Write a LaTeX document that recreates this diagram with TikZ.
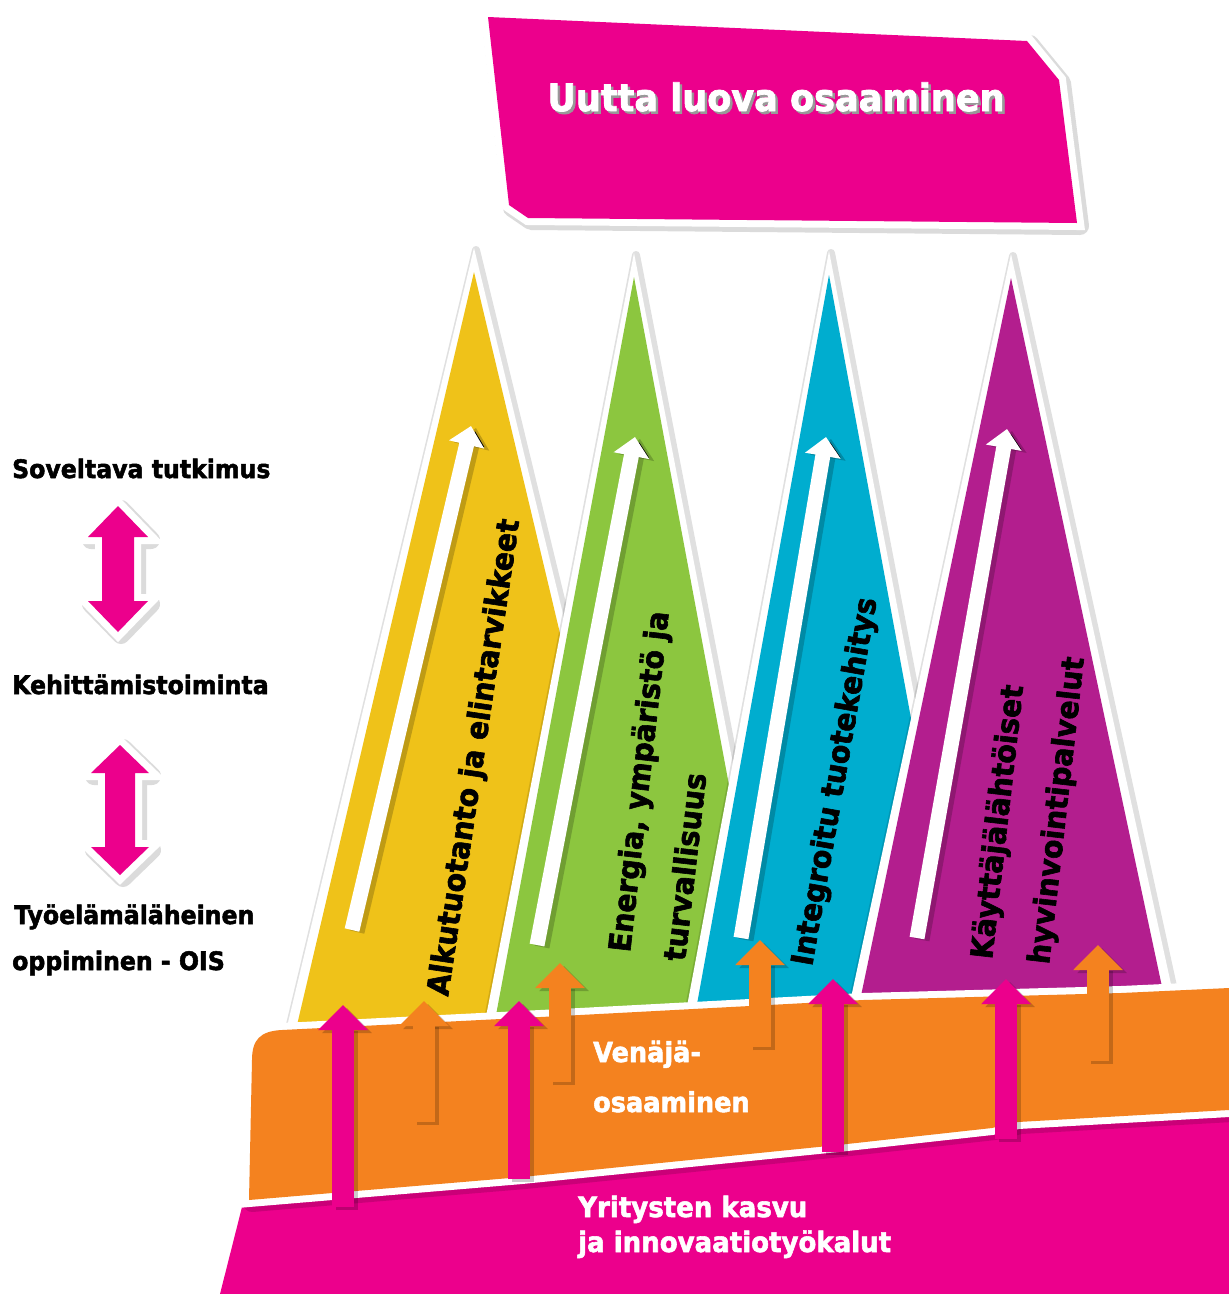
\documentclass[tikz,border=0pt]{standalone}
\usepackage{fontspec}
\setmainfont{DejaVu Sans}[FakeStretch=0.93, BoldFeatures={FakeBold=2}]
\usetikzlibrary{arrows.meta}
\definecolor{mag}{HTML}{EC008C}
\definecolor{ora}{HTML}{F4821F}
\definecolor{yel}{HTML}{EFC219}
\definecolor{grn}{HTML}{8CC63F}
\definecolor{blu}{HTML}{00ADCF}
\definecolor{pur}{HTML}{B31E8E}
\tikzset{
  shapeshadow/.style={preaction={draw=black, draw opacity=0.14, line width=18pt, line join=round, transform canvas={shift={(3pt,-3pt)}}}},
  trishadow/.style={preaction={draw=black, draw opacity=0.12, line width=8pt, line join=round, transform canvas={shift={(2pt,-2pt)}}}},
  whiteborder/.style={preaction={draw=white, line width=14pt}},
  varr/.style={line width=22pt, -{Triangle[width=48pt,length=25pt]}},
  varrsh/.style={varr, draw=black, draw opacity=0.2},
  warr/.style={draw=white, line width=15pt, -{Triangle[width=35pt,length=19pt]}},
  warrsh/.style={warr, draw=black, draw opacity=0.2},
  lbl/.style={font=\bfseries\fontsize{25.4}{30}\selectfont, anchor=base west, inner sep=0pt, text=black},
  rottxt/.style={font=\bfseries\fontsize{30.5}{36}\selectfont, anchor=base west, inner sep=0pt, text=black, rotate=#1},
  bandtxt/.style={font=\bfseries\fontsize{27.5}{32}\selectfont, anchor=base west, inner sep=0pt, text=white},
  titletxt/.style={font=\bfseries\fontsize{37.7}{44}\selectfont, anchor=base, inner sep=0pt, text=#1},
}
\newcommand\VArrow[5]{% name, colour, x, ybottom, ytop
  \coordinate (#1-b) at (#3,#4);
  \coordinate (#1-t) at (#3,#5);
  \draw[varrsh] ([shift={(4,3)}]#1-b) -- ([shift={(4,3)}]#1-t);
  \draw[varr, draw=#2] (#1-b) -- (#1-t);
}
\newcommand\WArrow[5]{% name, xb, yb, xt, yt
  \coordinate (#1-b) at (#2,#3);
  \coordinate (#1-t) at (#4,#5);
  \draw[warrsh] ([shift={(5,2)}]#1-b) -- ([shift={(5,2)}]#1-t);
  \draw[warr] (#1-b) -- (#1-t);
}
\begin{document}
\begin{tikzpicture}[x=1pt,y=-1pt]
\useasboundingbox (0,0) rectangle (1229,1294);

% ---------- top box ----------
\path[fill=mag, shapeshadow, whiteborder]
  (488,17) -- (1027,41) -- (1059,80) -- (1077,223) -- (528,218) -- (509,205) -- cycle;
\node[titletxt=black!40] (titleS) at (778.5,113.5) {Uutta luova osaaminen};
\node[titletxt=white] (title) at (776,111) {Uutta luova osaaminen};

% ---------- triangles ----------
\fill[white, trishadow] (474,248) -- (671.5,1060) -- (279,1060) -- cycle;
\fill[yel] (474,272) -- (661.5,1060) -- (288.8,1060) -- cycle;

\fill[white, trishadow] (634,253) -- (790.4,1060) -- (477.6,1060) -- cycle;
\fill[grn] (634,277) -- (780.4,1060) -- (487.6,1060) -- cycle;

\fill[white, trishadow] (829,251) -- (984.2,1060) -- (676.9,1060) -- cycle;
\fill[blu] (829,275) -- (974.2,1060) -- (686.9,1060) -- cycle;

\fill[white, trishadow] (1011,254) -- (1187.6,1060) -- (837.6,1060) -- cycle;
\fill[pur] (1011,278) -- (1177.6,1060) -- (847.6,1060) -- cycle;

% white arrows in the triangles
\WArrow{wy}{352}{930}{471}{426}
\WArrow{wg}{537}{945}{635}{437}
\WArrow{wb}{741}{938}{826}{437}
\WArrow{wp}{917}{938}{1007}{429}

% rotated texts
\node[rottxt=81.5] (tyel) at (448,997) {Alkutuotanto ja elintarvikkeet};
\node[rottxt=83.5] (tgrn1) at (630,953) {Energia, ympäristö ja};
\node[rottxt=83.5] (tgrn2) at (685,962) {turvallisuus};
\node[rottxt=80] (tblu) at (812,967) {Integroitu tuotekehitys};
\node[rottxt=83.5] (tpur1) at (992,960) {Käyttäjälähtöiset};
\node[rottxt=83.5] (tpur2) at (1049,965) {hyvinvointipalvelut};

% ---------- bottom bands ----------
\fill[mag] (242,1207) -- (522,1183) -- (838,1151) -- (992,1134) -- (1018,1128)
  -- (1229,1116) -- (1229,1294) -- (220,1294) -- cycle;
\path[fill=ora, shapeshadow, whiteborder]
  (249,1200) -- (252,1060) .. controls (252,1040) and (260,1031) .. (282,1030)
  -- (580,1015) -- (863,1000) -- (1121,993) -- (1229,988) -- (1229,1110)
  -- (1018,1122) -- (992,1128) -- (838,1145) -- (522,1177) -- cycle;

\node[bandtxt] (ven1) at (593,1062) {Venäjä-};
\node[bandtxt] (ven2) at (593,1112) {osaaminen};
\node[bandtxt, font=\bfseries\fontsize{28}{32}\selectfont] (yri1) at (578,1217) {Yritysten kasvu};
\node[bandtxt, font=\bfseries\fontsize{28}{32}\selectfont] (yri2) at (578,1252) {ja innovaatiotyökalut};

% ---------- vertical arrows ----------
\VArrow{pa1}{mag}{343}{1207}{1005}
\VArrow{pa2}{mag}{519}{1179}{1001}
\VArrow{pa3}{mag}{833}{1152}{979}
\VArrow{pa4}{mag}{1006}{1139}{979}
\VArrow{oa1}{ora}{424}{1122}{1001}
\VArrow{oa2}{ora}{560}{1082}{963}
\VArrow{oa3}{ora}{760}{1047}{940}
\VArrow{oa4}{ora}{1098}{1061}{945}

% ---------- left column ----------
\node[lbl] (l1) at (12,478) {Soveltava tutkimus};
\node[lbl] (l2) at (12,694) {Kehittämistoiminta};
\node[lbl] (l3) at (14,924) {Työelämäläheinen};
\node[lbl] (l4) at (12,970) {oppiminen - OIS};

\path[fill=mag, shapeshadow, whiteborder]
  (118,506) -- (148,537) -- (134,537) -- (134,601) -- (148,601) -- (118,632)
  -- (88,601) -- (102,601) -- (102,537) -- (88,537) -- cycle;
\path[fill=mag, shapeshadow, whiteborder]
  (120,745) -- (149,773) -- (135,773) -- (135,847) -- (149,847) -- (120,875)
  -- (91,847) -- (105,847) -- (105,773) -- (91,773) -- cycle;
\end{tikzpicture}
\end{document}
